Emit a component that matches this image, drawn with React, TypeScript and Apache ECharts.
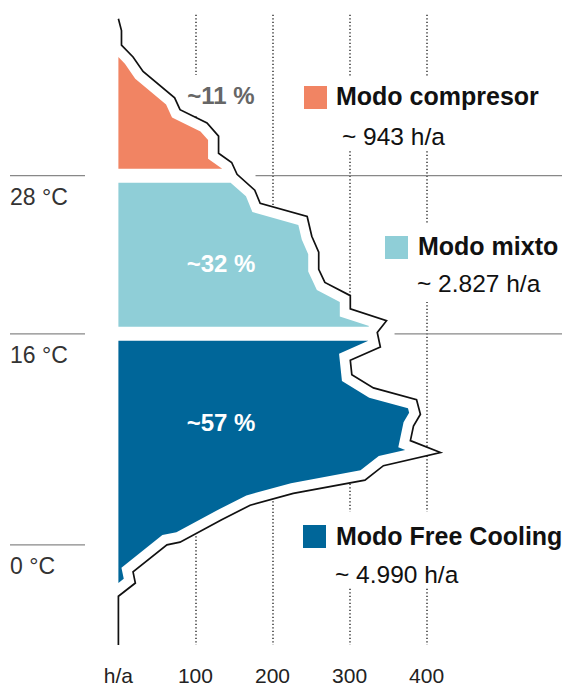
import { useEffect, useRef } from "react";
import * as echarts from "echarts";

// ---- data ----
// outline vertices: temperature (°C) and hours per year (h/a)
const temps = [39.9, 39.0, 37.9, 37.0, 35.9, 33.9, 33.0, 32.0, 31.0, 29.7, 29.0, 28.1, 26.9, 25.9, 24.9, 23.4, 22.2, 20.9, 19.9, 18.9, 17.9, 17.0, 16.1, 15.0, 14.0, 12.9, 11.9, 11.0, 9.9, 9.0, 7.9, 7.0, 6.0, 4.9, 3.9, 3.0, 1.9, 0.2, 0.0, -2.05, -2.9, -3.9, -7.6];
const hours = [0, 4, 4, 19, 32, 73, 80, 115, 130, 130, 147, 154, 177, 184, 245, 251, 260, 260, 268, 301, 301, 348, 336, 340, 301, 303, 331, 387, 392, 383, 379, 418, 344, 320, 227, 171, 134, 80, 63, 19, 22, 0, 0];

const xTicks = [0, 100, 200, 300, 400];
const tempThresholds = [28, 16, 0];
const tempLabels = ["28 °C", "16 °C", "0 °C"];
const modeNames = ["Modo compresor", "Modo mixto", "Modo Free Cooling"];
const modeHours = ["~ 943 h/a", "~ 2.827 h/a", "~ 4.990 h/a"];
const modeShares = ["~11 %", "~32 %", "~57 %"];
const X_MAX = 450;
const Y_MIN = -7.6;
const Y_MAX = 40.2;
const bandLimits: [number, number][] = [
  [28, Y_MAX],
  [16, 28],
  [Y_MIN, 16],
];

// ---- styles ----
const COLORS = ["#F18463", "#8FCED7", "#006699"];
const FONT = '"Liberation Sans", Arial, Helvetica, sans-serif';
const INSET = 10.5;
const GAP = 7;

function insetPolyline(pts: number[][], d: number) {
  const n = pts.length;
  const normals: number[][] = [];
  for (let i = 0; i < n - 1; i++) {
    const dx = pts[i + 1][0] - pts[i][0];
    const dy = pts[i + 1][1] - pts[i][1];
    const L = Math.hypot(dx, dy) || 1;
    normals.push([-dy / L, dx / L]);
  }
  const out: number[][] = [];
  for (let i = 0; i < n; i++) {
    let nx: number, ny: number;
    if (i === 0) {
      nx = normals[0][0] * d;
      ny = normals[0][1] * d;
    } else if (i === n - 1) {
      nx = normals[n - 2][0] * d;
      ny = normals[n - 2][1] * d;
    } else {
      const a = normals[i - 1];
      const b = normals[i];
      const dot = a[0] * b[0] + a[1] * b[1];
      const k = d / Math.max(1 + dot, 0.12);
      nx = (a[0] + b[0]) * k;
      ny = (a[1] + b[1]) * k;
    }
    out.push([pts[i][0] + nx, pts[i][1] + ny]);
  }
  return out;
}

function clipHalf(poly: number[][], inside: (p: number[]) => boolean, cross: (a: number[], b: number[]) => number[]) {
  const out: number[][] = [];
  for (let i = 0; i < poly.length; i++) {
    const cur = poly[i];
    const prev = poly[(i + poly.length - 1) % poly.length];
    const ci = inside(cur);
    const pi = inside(prev);
    if (ci) {
      if (!pi) out.push(cross(prev, cur));
      out.push(cur);
    } else if (pi) {
      out.push(cross(prev, cur));
    }
  }
  return out;
}

function clipRect(poly: number[][], x0: number, yTop: number, yBot: number) {
  const atX = (a: number[], b: number[], x: number) => {
    const t = (x - a[0]) / (b[0] - a[0]);
    return [x, a[1] + t * (b[1] - a[1])];
  };
  const atY = (a: number[], b: number[], y: number) => {
    const t = (y - a[1]) / (b[1] - a[1]);
    return [a[0] + t * (b[0] - a[0]), y];
  };
  let p = clipHalf(poly, (q) => q[0] >= x0, (a, b) => atX(a, b, x0));
  p = clipHalf(p, (q) => q[1] >= yTop, (a, b) => atY(a, b, yTop));
  p = clipHalf(p, (q) => q[1] <= yBot, (a, b) => atY(a, b, yBot));
  return p;
}

function hoursAt(t: number) {
  for (let i = 0; i < temps.length - 1; i++) {
    if (temps[i] >= t && t >= temps[i + 1]) {
      const f = (t - temps[i]) / (temps[i + 1] - temps[i]);
      return hours[i] + f * (hours[i + 1] - hours[i]);
    }
  }
  return 0;
}

export default function App() {
  const ref = useRef<HTMLDivElement>(null);

  useEffect(() => {
    const chart = echarts.init(ref.current!, null, { renderer: "svg" });

    const outlinePx = (api: any) => temps.map((t, i) => api.coord([hours[i], t]));

    const underlay = (_params: any, api: any) => {
      const pts = outlinePx(api);
      const x0 = api.coord([0, 0])[0];
      const poly = [...pts, [x0, pts[pts.length - 1][1]], [x0, pts[0][1]]];
      return { type: "polygon", shape: { points: poly }, style: { fill: "#ffffff" } };
    };

    const bands = (params: any, api: any) => {
      const idx = params.dataIndex;
      const [lo, hi] = bandLimits[idx];
      const pts = outlinePx(api);
      const x0 = api.coord([0, 0])[0];
      const yTop = api.coord([0, hi])[1] + (hi < Y_MAX ? GAP : 0);
      const yBot = api.coord([0, lo])[1] - (lo > Y_MIN ? GAP : 0);
      const inner = insetPolyline(pts, INSET);
      const poly = [...inner, [x0 - 100, inner[inner.length - 1][1]], [x0 - 100, inner[0][1]]];
      const clipped = clipRect(poly, x0, yTop, yBot);
      return { type: "polygon", shape: { points: clipped }, style: { fill: COLORS[idx] } };
    };

    chart.setOption({
      animation: false,
      grid: { left: 118.4, right: 102.9, top: 14.8, bottom: 39.3, containLabel: false },
      xAxis: {
        type: "value",
        min: xTicks[0],
        max: X_MAX,
        interval: 100,
        axisLine: { show: false },
        axisTick: { show: false },
        splitLine: {
          show: true,
          showMinLine: false,
          showMaxLine: false,
          lineStyle: { color: "#333", width: 1.5, type: [1.3, 2.2] },
        },
        axisLabel: {
          color: "#222",
          fontSize: 21,
          fontFamily: FONT,
          margin: 20,
          showMaxLabel: false,
          formatter: (v: number) => (v === 0 ? "h/a" : xTicks.includes(v) ? String(v) : ""),
        },
      },
      yAxis: { type: "value", min: Y_MIN, max: Y_MAX, show: false },
      series: [
        { type: "custom", coordinateSystem: "cartesian2d", z: 2, silent: true, clip: false, data: [[0, 0]], renderItem: underlay },
        {
          type: "custom",
          coordinateSystem: "cartesian2d",
          z: 3,
          silent: true,
          clip: false,
          data: bandLimits.map((_, i) => [i * 100, 0]),
          renderItem: bands,
        },
        {
          type: "line",
          data: temps.map((t, i) => [hours[i], t]),
          symbol: "none",
          clip: false,
          z: 10,
          silent: true,
          lineStyle: { color: "#111", width: 1.7, join: "miter" },
        },
      ],
    });

    const px = (h: number, t: number) => chart.convertToPixel({ gridIndex: 0 }, [h, t]) as number[];

    const graphics: any[] = [];
    tempThresholds.forEach((t, k) => {
      const y = px(0, t)[1];
      graphics.push({
        type: "line",
        z: 5,
        shape: { x1: 10, y1: y, x2: 85, y2: y },
        style: { stroke: "#888", lineWidth: 1.3 },
      });
      if (k < 2) {
        const xr = px(hoursAt(t), t)[0] + 17;
        graphics.push({
          type: "line",
          z: 5,
          shape: { x1: xr, y1: y, x2: 562, y2: y },
          style: { stroke: "#888", lineWidth: 1.3 },
        });
      }
      graphics.push({
        type: "text",
        z: 5,
        x: 10,
        y: y + 21,
        style: {
          text: tempLabels[k],
          fill: "#333",
          fontSize: 23,
          fontFamily: FONT,
          align: "left",
          verticalAlign: "middle",
          textAlign: "left",
          textVerticalAlign: "middle",
        },
      });
    });

    const shareCenters = [
      [221, 95],
      [221, 263],
      [221, 422],
    ];
    modeShares.forEach((s, i) => {
      graphics.push({
        type: "text",
        z: 6,
        x: shareCenters[i][0],
        y: shareCenters[i][1],
        style: {
          text: s,
          fill: i === 0 ? "#666" : "#fff",
          fontSize: 24,
          fontWeight: "bold",
          fontFamily: FONT,
          align: "center",
          verticalAlign: "middle",
          textAlign: "center",
          textVerticalAlign: "middle",
          backgroundColor: i === 0 ? "#fff" : "transparent",
          padding: i === 0 ? [8, 2, 8, 2] : 0,
        },
      });
    });

    const legendLayout = [
      { box: [296, 77, 160, 73], sq: [304, 86], title: [336, 96], value: [342, 136] },
      { box: [378, 223, 185, 79], sq: [385, 236], title: [418, 246], value: [417, 283] },
      { box: [296, 512, 272, 76], sq: [303, 525], title: [336, 536], value: [335, 574] },
    ];
    modeNames.forEach((name, i) => {
      const L = legendLayout[i];
      graphics.push({
        type: "rect",
        z: 5,
        shape: { x: L.box[0], y: L.box[1], width: L.box[2], height: L.box[3] },
        style: { fill: "#fff" },
      });
      graphics.push({
        type: "rect",
        z: 6,
        shape: { x: L.sq[0], y: L.sq[1], width: 23, height: 23 },
        style: { fill: COLORS[i] },
      });
      graphics.push({
        type: "text",
        z: 6,
        x: L.title[0],
        y: L.title[1],
        style: {
          text: name,
          fill: "#111",
          fontSize: 25,
          fontWeight: "bold",
          fontFamily: FONT,
          align: "left",
          verticalAlign: "middle",
          textAlign: "left",
          textVerticalAlign: "middle",
        },
      });
      graphics.push({
        type: "text",
        z: 6,
        x: L.value[0],
        y: L.value[1],
        style: {
          text: modeHours[i],
          fill: "#111",
          fontSize: 24.5,
          fontFamily: FONT,
          align: "left",
          verticalAlign: "middle",
          textAlign: "left",
          textVerticalAlign: "middle",
        },
      });
    });

    chart.setOption({ graphic: { elements: graphics } });

    return () => chart.dispose();
  }, []);

  return <div ref={ref} style={{ width: 568, height: 686, position: "absolute", left: 0, top: 0 }} />;
}
